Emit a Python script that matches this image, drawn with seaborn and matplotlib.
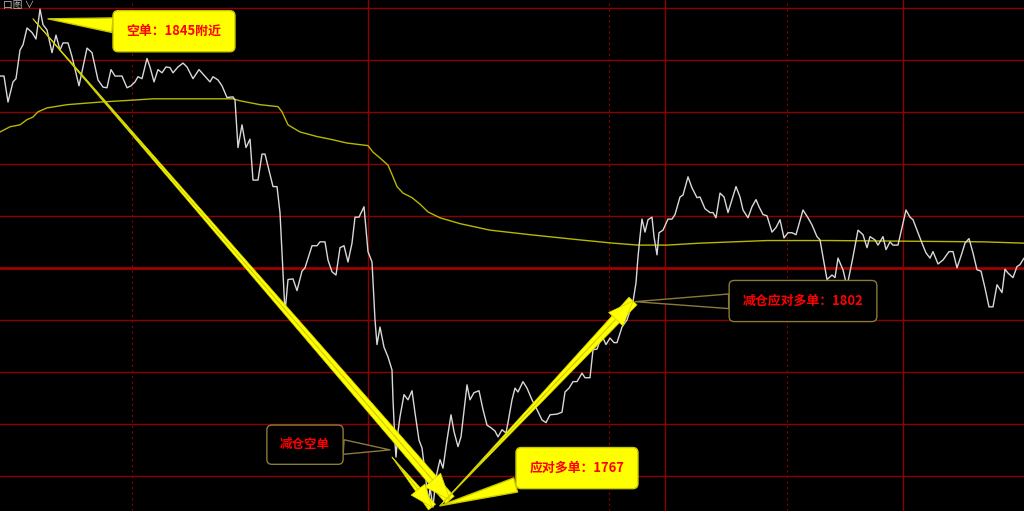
import matplotlib
matplotlib.use("Agg")
import matplotlib.pyplot as plt
import seaborn as sns

# minute position across the trading day and last price
t = [0, 4, 8, 13, 16, 20, 23, 27, 32, 36, 40, 43, 47, 52, 56, 60, 63, 68, 72, 79,
     87, 92, 98, 103, 107, 111, 115, 122, 127, 131, 135, 138, 142, 147, 150, 154, 158, 162, 166, 170,
     173, 178, 183, 187, 193, 199, 203, 210, 213, 218, 222, 227, 233, 235,
     238, 242, 246, 250, 253, 258, 262, 265, 273, 277, 280, 283, 285, 288, 293, 297, 302, 305, 312, 317,
     320, 325, 328, 332, 336, 340, 344, 348, 352, 355, 359, 364, 368, 372, 375,
     377, 380, 384, 388, 392, 393, 395, 396, 398, 400, 404, 408, 412, 415, 419, 422, 426, 428, 430, 433,
     436, 440, 443, 447, 451, 454, 458, 461, 467, 470, 474, 479, 483, 487, 491, 495, 498, 502, 506, 508,
     512, 515, 518, 523, 527, 532, 537,
     542, 546, 550, 557, 562, 565, 569, 573, 577, 582, 585, 590, 593, 597, 600, 603, 606, 610, 614, 617,
     622, 627, 633, 636, 638, 640,
     642, 645, 648, 652, 654, 657, 659, 663, 668, 672, 675, 680, 683, 688, 692, 697, 700, 705, 710, 713,
     716, 720, 724, 728, 736, 740, 743, 748, 752, 756, 759, 763, 767, 772, 776, 780, 784, 788, 792, 796,
     803, 808, 812, 817, 820, 827, 832, 835, 838, 843, 847, 853, 858, 863, 867, 870, 875, 878, 883, 886,
     890, 893, 898, 902, 906, 910, 913, 918, 922, 926, 930, 933, 938, 943, 949, 953, 957, 962, 965, 969,
     973, 977, 981, 985, 989, 993, 997, 1002, 1005, 1008, 1013, 1017, 1020, 1024]
price = [1835.5, 1835.5, 1831.5, 1834.6, 1835.1, 1839.5, 1840.3, 1842.9, 1842.2, 1841.2,
         1845.8, 1843.4, 1842.6, 1839.1, 1841.8, 1839.5, 1840.6, 1840.6, 1838.5, 1834.0,
         1839.8, 1839.1, 1834.9, 1833.8, 1833.7, 1836.5, 1835.5, 1835.5, 1833.7, 1834.0,
         1834.6, 1835.4, 1835.1, 1838.2, 1836.9, 1834.6, 1836.5, 1836.0, 1836.9, 1836.8,
         1836.0, 1836.9, 1837.5, 1836.9, 1835.1, 1836.5, 1835.8, 1834.6, 1835.4, 1834.9,
         1834.0, 1832.2, 1832.3, 1831.8,
         1824.5, 1828.0, 1824.5, 1825.8, 1819.5, 1819.5, 1823.5, 1823.5, 1818.5, 1818.5,
         1814.5, 1805.2, 1799.1, 1804.2, 1804.3, 1802.5, 1805.5, 1806.0, 1809.4, 1809.4,
         1810.0, 1810.0, 1807.2, 1805.4, 1804.9, 1809.1, 1809.4, 1806.9, 1809.8, 1813.8,
         1813.8, 1815.4, 1808.5, 1806.9, 1798.0,
         1794.2, 1796.9, 1793.8, 1792.3, 1790.3, 1785.7, 1779.1, 1776.9, 1780.8, 1783.1,
         1786.5, 1785.7, 1787.1, 1783.7, 1779.5, 1778.3, 1773.4, 1769.2, 1772.2, 1769.2,
         1773.8, 1776.5, 1775.2, 1779.5, 1783.4, 1780.8, 1778.5, 1780.0, 1788.0, 1785.7,
         1786.8, 1787.1, 1784.2, 1781.8, 1781.4, 1780.9, 1780.0, 1781.1, 1780.6, 1782.2,
         1785.7, 1787.5, 1786.9, 1788.5, 1787.5, 1785.7, 1784.2,
         1782.6, 1782.2, 1783.4, 1783.5, 1783.8, 1786.9, 1787.5, 1788.5, 1788.5, 1789.8,
         1789.1, 1789.1, 1793.4, 1793.5, 1794.8, 1795.2, 1794.2, 1795.2, 1794.5, 1794.5,
         1796.9, 1798.0, 1800.8, 1803.7, 1807.7, 1810.8,
         1813.5, 1811.5, 1813.4, 1813.8, 1810.8, 1808.0, 1811.4, 1811.8, 1813.5, 1813.5,
         1814.2, 1816.9, 1817.2, 1820.0, 1818.3, 1816.8, 1816.9, 1815.1, 1814.5, 1814.5,
         1813.7, 1817.5, 1816.9, 1814.5, 1818.5, 1816.9, 1814.9, 1813.7, 1815.4, 1816.5,
         1815.4, 1814.2, 1814.0, 1811.5, 1812.2, 1813.4, 1810.6, 1811.4, 1811.4, 1811.1,
         1814.9, 1813.7, 1812.6, 1810.8, 1810.3, 1804.2, 1804.9, 1804.5, 1807.5, 1805.7,
         1803.1, 1807.7, 1811.8, 1811.1, 1809.1, 1810.8, 1810.3, 1809.5, 1810.8, 1808.8,
         1810.0, 1809.5, 1809.5, 1812.2, 1814.9, 1813.8, 1813.4, 1811.4, 1809.8, 1808.3,
         1807.5, 1808.5, 1806.6, 1807.2, 1808.5, 1808.5, 1806.0, 1808.3, 1809.8, 1810.5,
         1808.3, 1805.7, 1805.5, 1802.9, 1800.0, 1800.0, 1803.4, 1802.2, 1805.8, 1805.2,
         1804.5, 1806.2, 1806.5, 1807.5]

# average price line
avg_t = [0, 10, 20, 27, 33, 38, 47, 67, 100, 133, 153, 200, 233, 240, 260, 278, 282, 288, 300, 317,
         330, 347, 368, 373, 380, 388, 393, 397, 403, 412, 420, 428, 440, 460, 490, 530, 580, 613, 638, 667,
         700, 767, 830, 983, 1024]
avg_price = [1826.9, 1827.7, 1828.0, 1828.8, 1829.2, 1830.0, 1830.6, 1831.1, 1831.5, 1831.8,
             1832.0, 1832.0, 1832.0, 1831.7, 1831.1, 1830.8, 1830.0, 1828.0, 1826.9, 1826.2,
             1825.8, 1825.2, 1824.8, 1823.8, 1822.9, 1821.8, 1820.0, 1818.5, 1817.5, 1816.8,
             1815.8, 1814.6, 1813.7, 1812.8, 1811.8, 1811.1, 1810.3, 1809.8, 1809.5, 1809.5,
             1809.8, 1810.2, 1810.2, 1810.0, 1809.8]

grid_prices = [1774, 1782, 1790, 1798, 1814, 1822, 1830, 1838, 1846]
settle_price = 1806
session_ends = [368, 665, 903]
half_marks = [132, 609, 787]

labels = ["空单：1845附近", "减仓空单", "应对多单：1767", "减仓应对多单：1802"]

sns.set_theme(style="dark", rc={"axes.facecolor": "black", "figure.facecolor": "black"})
plt.rcParams["font.family"] = ["Noto Sans CJK SC", "DejaVu Sans"]

fig = plt.figure(figsize=(10.24, 5.11), dpi=100)
ax = fig.add_axes([0, 0, 1, 1])
ax.set_facecolor("black")

grid_red = "#8c0000"
for p in grid_prices:
    ax.axhline(p, color=grid_red, lw=1, zorder=1)
ax.axhline(settle_price, color="#a00000", lw=2, zorder=1)
for x in session_ends:
    ax.axvline(x, color=grid_red, lw=1, zorder=1)
for x in half_marks:
    ax.axvline(x, color=grid_red, lw=0.8, ls=(0, (2, 3)), zorder=1)

sns.lineplot(x=avg_t, y=avg_price, ax=ax, color="#b8b800", lw=1, sort=False, zorder=2)
sns.lineplot(x=t, y=price, ax=ax, color="#d8d8d8", lw=1, sort=False, zorder=3)

# big yellow trade arrows: shaft widens from tail to head
def trade_arrow(tail, tip, shaft, head):
    ax.annotate("", xy=tail, xytext=tip, zorder=5,
                arrowprops=dict(arrowstyle="wedge,tail_width=0.5", fc="#ffff00", ec="#d0d000",
                                lw=0.5, mutation_scale=shaft, shrinkA=0, shrinkB=0))
    ax.annotate("", xy=tip, xytext=tail, zorder=5,
                arrowprops=dict(arrowstyle="simple,head_length=0.95,head_width=0.75,tail_width=0.01",
                                fc="#ffff00", ec="#d0d000", lw=0.5, mutation_scale=head,
                                shrinkA=0, shrinkB=0))

trade_arrow((33, 1844.3), (450, 1770.3), 16, 20)
trade_arrow((392, 1776.9), (432, 1769.2), 13, 17)
trade_arrow((440, 1769.4), (633, 1800.9), 16, 19)

# callout boxes
def callout(text, xy, xytext, fc, ec, fs):
    ax.annotate(text, xy=xy, xytext=xytext, ha="center", va="center", zorder=6,
                color="#ff0000", fontsize=fs, fontweight="bold",
                bbox=dict(boxstyle="round,pad=1.05,rounding_size=0.4", fc=fc, ec=ec, lw=1),
                arrowprops=dict(arrowstyle="wedge,tail_width=0.75", fc=fc, ec=ec, lw=1,
                                mutation_scale=14, shrinkA=0, shrinkB=0))

callout(labels[0], (48, 1844.3), (174, 1842.4), "#ffff00", "#c8c800", 9.3)
callout(labels[1], (390, 1778.0), (305, 1778.8), "#000000", "#8a7a3a", 9)
callout(labels[2], (440, 1769.4), (577, 1775.2), "#ffff00", "#c8c800", 9.3)
callout(labels[3], (635, 1800.8), (803, 1800.9), "#000000", "#8a7a3a", 9.3)

fig.text(0.003, 1.0, "口图 ∨", color="#bbbbbb", fontsize=7, va="top", ha="left")

ax.set_xlim(0, 1024)
ax.set_ylim(1768.6, 1847.2)
ax.set_xticks([])
ax.set_yticks([])
ax.set_xlabel("")
ax.set_ylabel("")
for s in ax.spines.values():
    s.set_visible(False)

fig.savefig("out.png", dpi=100, facecolor="black")
